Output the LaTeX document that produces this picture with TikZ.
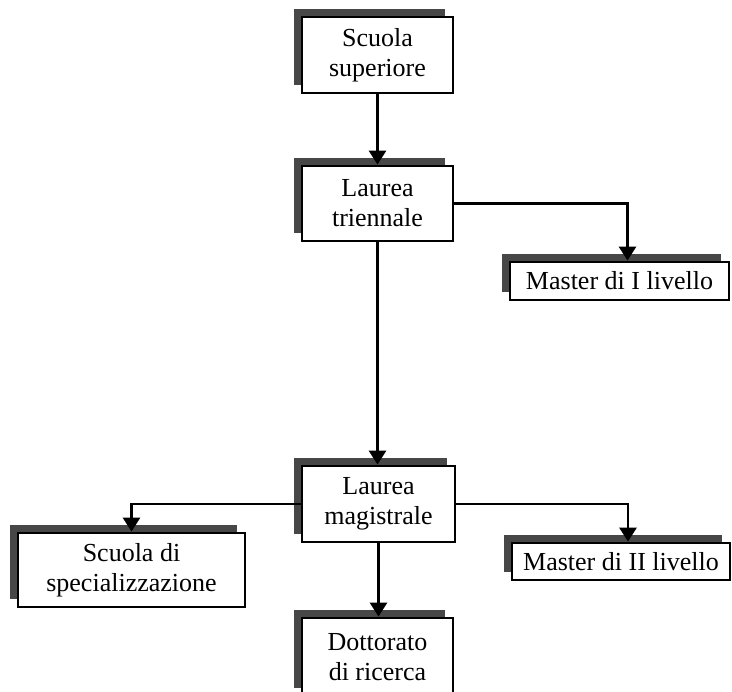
\documentclass[tikz,border=0pt]{standalone}
\usepackage{fontspec}
\setmainfont{Liberation Serif}
\usepackage{tikz}
\usetikzlibrary{shapes, arrows.meta, shadows, positioning}
\tikzstyle{box} = [rectangle, draw, line width = 2.8pt, fill = white, inner sep = 0pt,
	align = center, font = \fontsize{26}{30}\selectfont,
	general shadow = {fill = black!72, shadow xshift = -8pt, shadow yshift = 8pt}]
\tikzstyle{line} = [draw, line width = 2.8pt]
\tikzstyle{arrow} = [draw, line width = 2.8pt, -{Triangle[width = 17pt, length = 14pt]}]

\begin{document}
\begin{tikzpicture}[x = 1pt, y = -1pt]
			\useasboundingbox (0, 0) rectangle (732, 692);
			\node [box, minimum width = 151pt, minimum height = 76pt] (superiore) at (377.5, 55) {Scuola\\superiore};
			\node [box, minimum width = 151pt, minimum height = 75pt] (triennale) at (377.5, 203.5) {Laurea\\triennale};
			\node [box, minimum width = 219pt, minimum height = 38pt] (master1) at (619.5, 281) {Master di I livello};
			\node [box, minimum width = 153pt, minimum height = 76pt] (magistrale) at (378.5, 504) {Laurea\\magistrale};
			\node [box, minimum width = 218pt, minimum height = 37pt] (master2) at (621, 561.5) {Master di II livello};
			\node [box, minimum width = 227pt, minimum height = 74pt] (specializz) at (131.5, 570) {Scuola di\\specializzazione};
			\node [box, minimum width = 151pt, minimum height = 78pt] (dottorato) at (377.5, 657) {Dottorato\\di ricerca};
			
			\path [arrow] (superiore.south) -- (superiore.south |- triennale.north);
			\path [arrow] (triennale.south) -- (triennale.south |- magistrale.north);
			\path [arrow] (triennale.east) -| ([xshift = 8pt]master1.north);
			\path [arrow] (magistrale.east) -| ([xshift = 7pt]master2.north);
			\path [arrow] (magistrale.west) -| (specializz.north);
			\path [arrow] (magistrale.south) -- (magistrale.south |- dottorato.north);
		\end{tikzpicture}
\end{document}
